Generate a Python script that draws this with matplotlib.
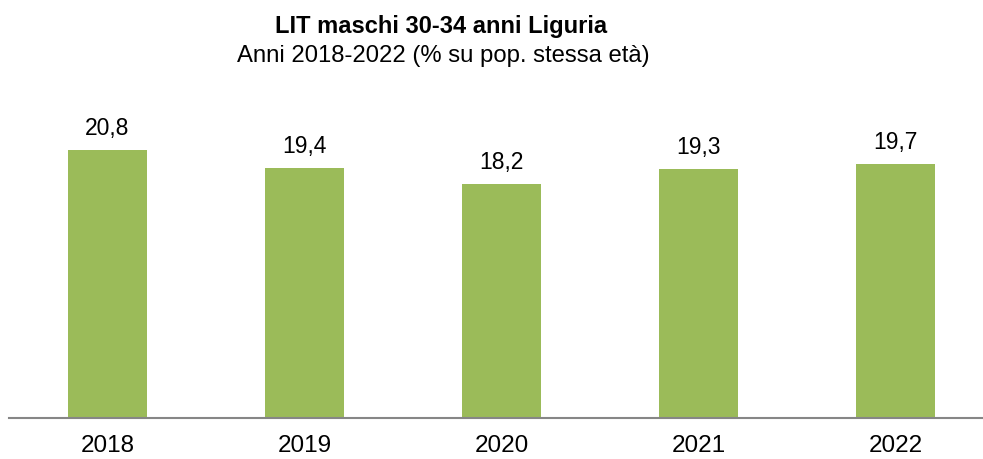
import matplotlib
matplotlib.use('Agg')
import matplotlib.pyplot as plt

years = ['2018', '2019', '2020', '2021', '2022']
values = [20.8, 19.4, 18.2, 19.3, 19.7]
value_labels = ['20,8', '19,4', '18,2', '19,3', '19,7']

plt.rcParams['font.family'] = ['Liberation Sans', 'DejaVu Sans']

W, H = 983, 459
fig = plt.figure(figsize=(W / 100, H / 100), dpi=100)

# axes placed in pixel terms: baseline at y=418, one category = 197 px
left, right = 9, 9 + 5 * 197
bottom, top = 418, 418 - 25 * 12.88
ax = fig.add_axes([left / W, 1 - bottom / H, (right - left) / W, (bottom - top) / H])

x = range(len(years))
bars = ax.bar(x, values, width=0.4, color='#9BBB59')
ax.set_xlim(-0.5, len(years) - 0.5)
ax.set_ylim(0, 25)

for xi, v, lab in zip(x, values, value_labels):
    ax.annotate(lab, (xi, v), xytext=(0, 15), textcoords='offset pixels',
                ha='center', va='baseline', fontsize=16.5, color='#000000')

for s in ['top', 'right', 'left']:
    ax.spines[s].set_visible(False)
ax.spines['bottom'].set_color('#868686')
ax.spines['bottom'].set_linewidth(1.5)
ax.set_yticks([])
ax.set_xticks(list(x))
ax.set_xticklabels(years, fontsize=17.5)
ax.tick_params(axis='x', length=0, pad=12)

fig.text(441 / W, 1 - 33 / H, 'LIT maschi 30-34 anni Liguria', ha='center', va='baseline',
         fontsize=17, fontweight='bold')
fig.text(443 / W, 1 - 62 / H, 'Anni 2018-2022 (% su pop. stessa età)', ha='center', va='baseline',
         fontsize=17.2)

fig.savefig('out.png', dpi=100)
